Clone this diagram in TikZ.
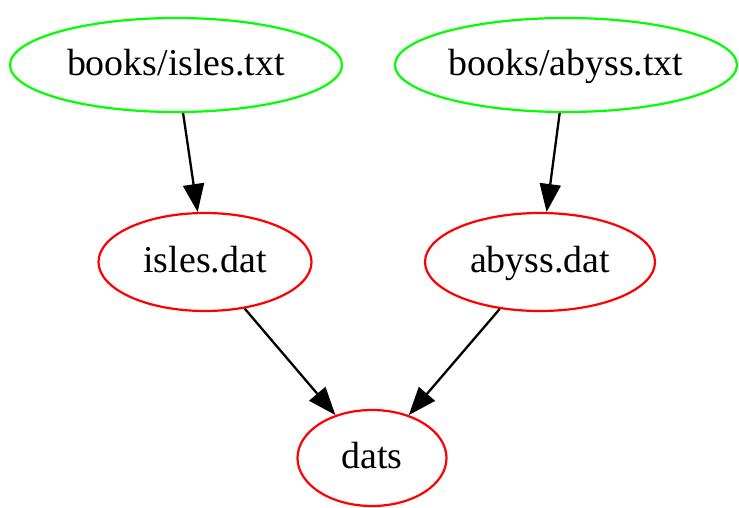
\documentclass[tikz,border=0pt]{standalone}
\usepackage{fontspec}
\setmainfont{Liberation Serif}
\usetikzlibrary{shapes.geometric,arrows.meta}
\definecolor{gvgreen}{RGB}{0,255,0}
\definecolor{gvred}{RGB}{255,0,0}
\begin{document}
\begin{tikzpicture}[x=1pt,y=-1pt,
  gvnode/.style={ellipse,draw,line width=2.2pt,inner sep=0pt,
    font=\fontsize{37.9}{40}\selectfont,text height=27pt,text depth=6pt},
  srcnode/.style={gvnode,draw=gvgreen},
  datnode/.style={gvnode,draw=gvred},
  edge/.style={line width=2.3pt,-{Triangle[length=28pt,width=21pt]}}]
\useasboundingbox (0,0) rectangle (739,508);
\node[srcnode,minimum width=332pt,minimum height=94pt] (bi) at (176,65) {books/isles.txt};
\node[srcnode,minimum width=342pt,minimum height=94pt] (ba) at (566,65) {books/abyss.txt};
\node[datnode,minimum width=213pt,minimum height=98pt] (id) at (205,262) {isles.dat};
\node[datnode,minimum width=230pt,minimum height=98pt] (ad) at (540,262) {abyss.dat};
\node[datnode,minimum width=149pt,minimum height=96pt] (d) at (372,458) {dats};
\draw[edge] (bi) -- (id);
\draw[edge] (ba) -- (ad);
\draw[edge] (id) -- (d);
\draw[edge] (ad) -- (d);
\end{tikzpicture}
\end{document}
